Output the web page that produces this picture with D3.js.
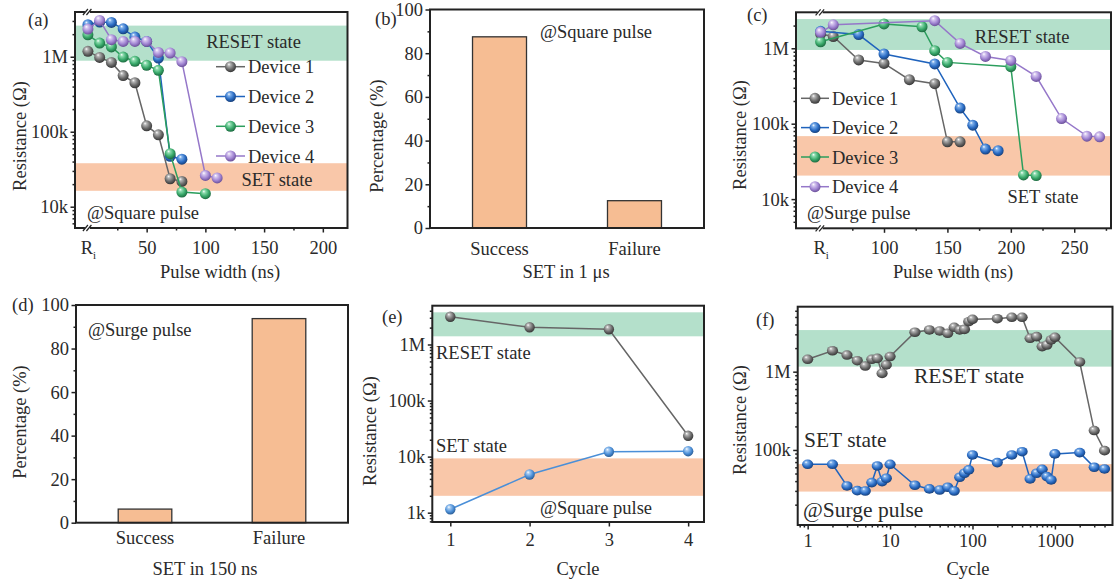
<!DOCTYPE html>
<html><head><meta charset="utf-8">
<script src="https://cdn.jsdelivr.net/npm/d3@7"></script>
<style>body{margin:0;background:#fff}</style>
</head><body><svg id="c" width="1114" height="581" style="background:#fff"></svg>
<script>
// ---------- DATA ----------
// Panel (a): square pulse, resistance vs pulse width (0 = Ri)
const aDev1X = [0,10,20,30,40,50,60,70,80];
const aDev1Y = [1.18e6,0.98e6,0.84e6,0.56e6,0.45e6,1.2e5,9.1e4,2.36e4,2.17e4];
const aDev2X = [0,10,20,30,40,50,60,70,80];
const aDev2Y = [2.67e6,2.9e6,2.87e6,2.36e6,1.83e6,1.6e6,0.96e6,4.7e4,4.3e4];
const aDev3X = [0,10,20,30,40,50,60,70,80,100];
const aDev3Y = [1.96e6,1.52e6,1.35e6,0.99e6,0.87e6,0.77e6,0.66e6,5.1e4,1.57e4,1.49e4];
const aDev4X = [0,10,20,30,40,50,60,70,80,100,110];
const aDev4Y = [2.34e6,3.05e6,1.69e6,1.6e6,1.6e6,1.6e6,1.14e6,1.12e6,0.86e6,2.61e4,2.42e4];
const aReset = [0.885e6, 2.6e6];
const aSet = [1.63e4, 3.8e4];
const aXTicks = [0,50,100,150,200];
const aXLabels = ["Ri","50","100","150","200"];

// Panel (b)
const barCats = ["Success","Failure"];
const bVals = [87.5, 12.5];
// Panel (d)
const dVals = [6.25, 93.75];
const pctTicks = [0,20,40,60,80,100];

// Panel (c): surge pulse
const cDev1X = [50,60,80,100,120,140,150,160];
const cDev1Y = [1.55e6,1.43e6,0.70e6,0.63e6,3.83e5,3.39e5,5.75e4,5.75e4];
const cDev2X = [50,80,100,140,160,170,180,190];
const cDev2Y = [1.68e6,1.52e6,0.84e6,0.62e6,1.61e5,9.55e4,4.6e4,4.38e4];
const cDev3X = [50,100,130,140,150,200,210,220];
const cDev3Y = [1.22e6,2.1e6,1.93e6,0.93e6,0.65e6,0.57e6,2.09e4,2.05e4];
const cDev4X = [50,60,140,160,180,200,220,240,260,270];
const cDev4Y = [1.63e6,2.05e6,2.32e6,1.16e6,0.78e6,0.69e6,4.24e5,1.17e5,6.84e4,6.7e4];
const cReset = [0.95e6, 2.44e6];
const cSet = [2.05e4, 6.84e4];
const cXTicks = [50,100,150,200,250];
const cXLabels = ["Ri","100","150","200","250"];

// Panel (e): square pulse cycling
const eX = [1,2,3,4];
const eResetY = [3.13e6,2.03e6,1.87e6,2.35e4];
const eSetY = [1.15e3,4.8e3,1.22e4,1.25e4];
const eReset = [1.4e6, 3.75e6];
const eSet = [2.0e3, 9.3e3];

// Panel (f): surge pulse cycling
const fX = [1,2,3,4,5,6,7,8,9,10,20,30,40,50,60,70,80,90,100,200,300,400,500,600,700,800,900,1000,2000,3000,4000];
const fResetY = [1.44e6,1.85e6,1.63e6,1.38e6,1.18e6,1.44e6,1.48e6,0.95e6,1.22e6,1.56e6,3.19e6,3.41e6,3.31e6,3.09e6,3.69e6,3.41e6,3.47e6,4.35e6,4.66e6,4.75e6,4.95e6,4.95e6,2.67e6,2.8e6,2.09e6,2.19e6,2.54e6,2.75e6,1.33e6,1.77e5,9.8e4];
const fSetY = [6.56e4,6.56e4,3.47e4,3.02e4,2.99e4,3.83e4,6.25e4,3.94e4,4.35e4,6.56e4,3.54e4,3.18e4,3.08e4,3.34e4,2.99e4,4.48e4,5.04e4,5.56e4,8.63e4,6.89e4,8.63e4,9.5e4,4.27e4,5.04e4,5.66e4,4.57e4,4.14e4,8.9e4,9.25e4,6.01e4,5.72e4];
const fReset = [1.16e6, 3.4e6];
const fSet = [2.94e4, 6.6e4];

const resTicks = [1e3,1e4,1e5,1e6];
const resLabels = {1000:"1k",10000:"10k",100000:"100k",1000000:"1M"};

// ---------- STYLE ----------
const FONT = '"Liberation Serif","Times New Roman",serif';
const FS = 18.5;
const TXT = "#2a2a2a";
const GREEN_BAND = "#b4e0cb", ORANGE_BAND = "#f9c7a9", BAR = "#f6bd93";
const COLORS = {
  gray:   {line:"#666", light:"#b5b5b5", base:"#6a6a6a", dark:"#363636"},
  blue:   {line:"#1f63bd", light:"#7fb0ea", base:"#2a6cc4", dark:"#163f7a"},
  green:  {line:"#2b9e5d", light:"#8fdcb0", base:"#38a96a", dark:"#1d6a40"},
  purple: {line:"#9577c9", light:"#d7c8f0", base:"#a084d2", dark:"#6a4f98"},
  lblue:  {line:"#4a8fd8", light:"#a8ccf2", base:"#4d90d8", dark:"#2a5d96"}
};

const svg = d3.select("#c");
svg.append("rect").attr("width",1114).attr("height",581).attr("fill","#fff");
const defs = svg.append("defs");
Object.entries(COLORS).forEach(([k,c]) => {
  const g = defs.append("radialGradient").attr("id","ball-"+k)
    .attr("cx","45%").attr("cy","40%").attr("r","60%").attr("fx","35%").attr("fy","28%");
  g.append("stop").attr("offset","0%").attr("stop-color","#ffffff");
  g.append("stop").attr("offset","22%").attr("stop-color",c.light);
  g.append("stop").attr("offset","65%").attr("stop-color",c.base);
  g.append("stop").attr("offset","100%").attr("stop-color",c.dark);
});

let clipN = 0;
function makePanel(box) {
  const g = svg.append("g");
  const id = "clip" + (++clipN);
  defs.append("clipPath").attr("id", id).append("rect")
    .attr("x", box.l).attr("y", box.t).attr("width", box.r - box.l).attr("height", box.b - box.t);
  const inner = g.append("g").attr("clip-path", `url(#${id})`);
  return {g, inner};
}
function txt(s, x, y, o = {}) {
  const t = svg.append("text").attr("x", x).attr("y", y)
    .attr("font-family", FONT).attr("font-size", o.size || FS)
    .attr("text-anchor", o.anchor || "start").attr("fill", TXT).text(s);
  if (o.rotate) t.attr("transform", `rotate(-90,${x},${y})`);
  return t;
}
function frame(g, box) {
  g.append("rect").attr("x", box.l).attr("y", box.t).attr("width", box.r - box.l).attr("height", box.b - box.t)
    .attr("fill", "none").attr("stroke", "#222").attr("stroke-width", 2);
}
function styleAxis(ax) {
  ax.attr("font-family", FONT).attr("font-size", FS).attr("color", "#222");
  ax.select(".domain").remove();
  ax.selectAll("line").attr("stroke-width", 1.5);
  ax.selectAll("text").attr("fill", TXT);
}
function logMinors(domain) {
  const out = [];
  const lo = Math.floor(Math.log10(domain[0])), hi = Math.ceil(Math.log10(domain[1]));
  for (let e = lo; e <= hi; e++) for (let k = 2; k <= 9; k++) {
    const v = k * Math.pow(10, e);
    if (v > domain[0] && v < domain[1]) out.push(v);
  }
  return out;
}
function leftAxis(g, box, y, ticks, fmt, minors) {
  const ax = g.append("g").attr("transform", `translate(${box.l},0)`)
    .call(d3.axisLeft(y).tickValues(ticks).tickFormat(fmt).tickSize(4.5).tickPadding(2.5));
  styleAxis(ax);
  if (minors && minors.length) {
    const m = g.append("g").attr("transform", `translate(${box.l},0)`)
      .call(d3.axisLeft(y).tickValues(minors).tickFormat("").tickSize(2.5));
    styleAxis(m);
  }
}
function bottomAxis(g, box, x, ticks, fmt, minors, baseline, noMajorTick) {
  const ax = g.append("g").attr("transform", `translate(0,${box.b})`)
    .call(d3.axisBottom(x).tickValues(ticks).tickFormat(fmt).tickSize(noMajorTick ? 0 : 4.5));
  styleAxis(ax);
  ax.selectAll("text").attr("y", baseline - box.b).attr("dy", 0);
  if (minors && minors.length) {
    const m = g.append("g").attr("transform", `translate(0,${box.b})`)
      .call(d3.axisBottom(x).tickValues(minors).tickFormat("").tickSize(2.5));
    styleAxis(m);
  }
  return ax;
}
function band(inner, box, y, range, color) {
  inner.append("rect").attr("x", box.l).attr("width", box.r - box.l)
    .attr("y", y(range[1])).attr("height", y(range[0]) - y(range[1])).attr("fill", color);
}
function series(g, x, y, xs, ys, colorKey, r, ry) {
  const c = COLORS[colorKey];
  const pts = xs.map((v, i) => [v, ys[i]]);
  g.append("path").datum(pts).attr("fill", "none").attr("stroke", c.line).attr("stroke-width", 1.5)
    .attr("d", d3.line().x(d => x(d[0])).y(d => y(d[1])));
  g.selectAll(null).data(pts).enter().append("ellipse")
    .attr("cx", d => x(d[0])).attr("cy", d => y(d[1]))
    .attr("rx", r).attr("ry", ry || r).attr("fill", `url(#ball-${colorKey})`);
}
function legendItem(g, x0, x1, yy, colorKey, label) {
  const c = COLORS[colorKey];
  g.append("line").attr("x1", x0).attr("x2", x1).attr("y1", yy).attr("y2", yy)
    .attr("stroke", c.line).attr("stroke-width", 1.5);
  g.append("circle").attr("cx", (x0 + x1) / 2).attr("cy", yy).attr("r", 5.5).attr("fill", `url(#ball-${colorKey})`);
  txt(label, x1 + 3, yy + 6.5);
}
function breakMarks(g, xx, box) {
  [box.t, box.b].forEach(yy => {
    g.append("rect").attr("x", xx - 3).attr("y", yy - 2).attr("width", 5).attr("height", 4).attr("fill", "#fff");
    [-2.5, 1].forEach(dx => {
      g.append("line").attr("x1", xx + dx - 2.5).attr("y1", yy + 3).attr("x2", xx + dx + 2.5).attr("y2", yy - 3)
        .attr("stroke", "#222").attr("stroke-width", 1.2);
    });
  });
}
function riLabels(ax) {
  ax.selectAll("text").each(function(d) {
    const t = d3.select(this);
    if (t.text() === "Ri") {
      t.text(null);
      t.append("tspan").text("R");
      t.append("tspan").attr("font-size", 11).attr("dy", 5).text("i");
    }
  });
}
const resFmt = d => resLabels[d] || "";

// ---------- PANEL (a) ----------
{
  const box = {l:75, t:12, r:347.5, b:228};
  const x = d3.scaleLinear([-11, 221], [box.l, box.r]);
  const y = d3.scaleLog([5.2e3, 3.95e6], [box.b, box.t]);
  const {g, inner} = makePanel(box);
  band(inner, box, y, aReset, GREEN_BAND);
  band(inner, box, y, aSet, ORANGE_BAND);
  series(g, x, y, aDev1X, aDev1Y, "gray", 5.5);
  series(g, x, y, aDev2X, aDev2Y, "blue", 5.5);
  series(g, x, y, aDev3X, aDev3Y, "green", 5.5);
  series(g, x, y, aDev4X, aDev4Y, "purple", 5.5);
  frame(g, box);
  leftAxis(g, box, y, [1e4,1e5,1e6], resFmt, logMinors(y.domain()));
  const ax = bottomAxis(g, box, x, aXTicks, (d,i) => aXLabels[i], [25,75,125,175], 254);
  ax.selectAll(".tick").filter(d => d === 0).select("line").remove();
  riLabels(ax);
  breakMarks(g, x(0), box);
  txt("RESET state", 253.5, 48, {anchor:"middle"});
  txt("SET state", 277, 186, {anchor:"middle"});
  txt("@Square pulse", 87, 219);
  legendItem(g, 216, 245, 66.7, "gray", "Device 1");
  legendItem(g, 216, 245, 96.5, "blue", "Device 2");
  legendItem(g, 216, 245, 126.3, "green", "Device 3");
  legendItem(g, 216, 245, 156, "purple", "Device 4");
  txt("(a)", 28, 26);
  txt("Resistance (Ω)", 26, 136, {anchor:"middle", rotate:true});
  txt("Pulse width (ns)", 220, 278, {anchor:"middle"});
}

// ---------- bar panels ----------
function barPanel(box, vals, label, note, noteX, noteY, title, titleX, titleY, catBase) {
  const x = d3.scaleBand(barCats, [box.l, box.r]).paddingInner(0.6).paddingOuter(0.315);
  const y = d3.scaleLinear([0, 100], [box.b, box.t]);
  const {g} = makePanel(box);
  g.selectAll(null).data(vals).enter().append("rect")
    .attr("x", (d, i) => x(barCats[i])).attr("width", x.bandwidth())
    .attr("y", d => y(d)).attr("height", d => y(0) - y(d))
    .attr("fill", BAR).attr("stroke", "#333").attr("stroke-width", 1.3);
  frame(g, box);
  leftAxis(g, box, y, pctTicks, d => d, [10,30,50,70,90]);
  bottomAxis(g, box, x, barCats, d => d, null, catBase, true);
  txt(note, noteX, noteY);
  txt(label[0], label[1], label[2]);
  txt("Percentage (%)", label[3], label[4], {anchor:"middle", rotate:true});
  txt(title, titleX, titleY, {anchor:"middle"});
}
barPanel({l:430, t:9.5, r:704, b:228}, bVals, ["(b)", 375, 25, 383, 136],
  "@Square pulse", 540, 38, "SET in 1 μs", 566, 278, 255);
barPanel({l:76, t:305, r:348, b:522.7}, dVals, ["(d)", 12, 311, 26, 422],
  "@Surge pulse", 88, 336, "SET in 150 ns", 205, 575, 544);

// ---------- PANEL (c) ----------
{
  const box = {l:796, t:12.3, r:1111, b:228.3};
  const x = d3.scaleLinear([30.6, 279], [box.l, box.r]);
  const y = d3.scaleLog([4.1e3, 3.0e6], [box.b, box.t]);
  const {g, inner} = makePanel(box);
  band(inner, box, y, cReset, GREEN_BAND);
  band(inner, box, y, cSet, ORANGE_BAND);
  series(g, x, y, cDev1X, cDev1Y, "gray", 5.5);
  series(g, x, y, cDev2X, cDev2Y, "blue", 5.5);
  series(g, x, y, cDev3X, cDev3Y, "green", 5.5);
  series(g, x, y, cDev4X, cDev4Y, "purple", 5.5);
  frame(g, box);
  leftAxis(g, box, y, [1e4,1e5,1e6], resFmt, logMinors(y.domain()));
  const ax = bottomAxis(g, box, x, cXTicks, (d,i) => cXLabels[i], [75,125,175,225,275], 254);
  ax.selectAll(".tick").filter(d => d === 50).select("line").remove();
  riLabels(ax);
  breakMarks(g, x(50), box);
  txt("RESET state", 1022, 43, {anchor:"middle"});
  txt("SET state", 1043, 203, {anchor:"middle"});
  txt("@Surge pulse", 807, 219);
  legendItem(g, 801, 829, 98.3, "gray", "Device 1");
  legendItem(g, 801, 829, 127.6, "blue", "Device 2");
  legendItem(g, 801, 829, 157, "green", "Device 3");
  legendItem(g, 801, 829, 186.7, "purple", "Device 4");
  txt("(c)", 747, 21);
  txt("Resistance (Ω)", 746, 135, {anchor:"middle", rotate:true});
  txt("Pulse width (ns)", 953, 278, {anchor:"middle"});
}

// ---------- PANEL (e) ----------
{
  const box = {l:432.3, t:305.7, r:704, b:522};
  const x = d3.scaleLinear([0.773, 4.2], [box.l, box.r]);
  const y = d3.scaleLog([682, 4.92e6], [box.b, box.t]);
  const {g, inner} = makePanel(box);
  band(inner, box, y, eReset, GREEN_BAND);
  band(inner, box, y, eSet, ORANGE_BAND);
  series(g, x, y, eX, eResetY, "gray", 5.2);
  series(g, x, y, eX, eSetY, "lblue", 5.2);
  frame(g, box);
  leftAxis(g, box, y, resTicks, resFmt, logMinors(y.domain()));
  bottomAxis(g, box, x, eX, d => d, null, 546);
  txt("RESET state", 436, 359);
  txt("SET state", 436, 452);
  txt("@Square pulse", 540, 514);
  txt("(e)", 382, 323);
  txt("Resistance (Ω)", 376, 431, {anchor:"middle", rotate:true});
  txt("Cycle", 578, 575, {anchor:"middle"});
}

// ---------- PANEL (f) ----------
{
  const box = {l:797.7, t:306.7, r:1112.5, b:525};
  const x = d3.scaleLog([0.757, 5000], [box.l, box.r]);
  const y = d3.scaleLog([1.1e4, 6.76e6], [box.b, box.t]);
  const {g, inner} = makePanel(box);
  band(inner, box, y, fReset, GREEN_BAND);
  band(inner, box, y, fSet, ORANGE_BAND);
  series(g, x, y, fX, fResetY, "gray", 5.6, 4.8);
  series(g, x, y, fX, fSetY, "blue", 5.6, 4.8);
  frame(g, box);
  leftAxis(g, box, y, [1e5,1e6], resFmt, logMinors(y.domain()));
  bottomAxis(g, box, x, [1,10,100,1000], d => d, logMinors(x.domain()), 547);
  txt("RESET state", 969, 383, {anchor:"middle", size:21.5});
  txt("SET state", 804, 446.5, {size:21.5});
  txt("@Surge pulse", 803, 517, {size:21.5});
  txt("(f)", 756, 326);
  txt("Resistance (Ω)", 746, 420, {anchor:"middle", rotate:true});
  txt("Cycle", 968, 575, {anchor:"middle"});
}
</script>
</body></html>
